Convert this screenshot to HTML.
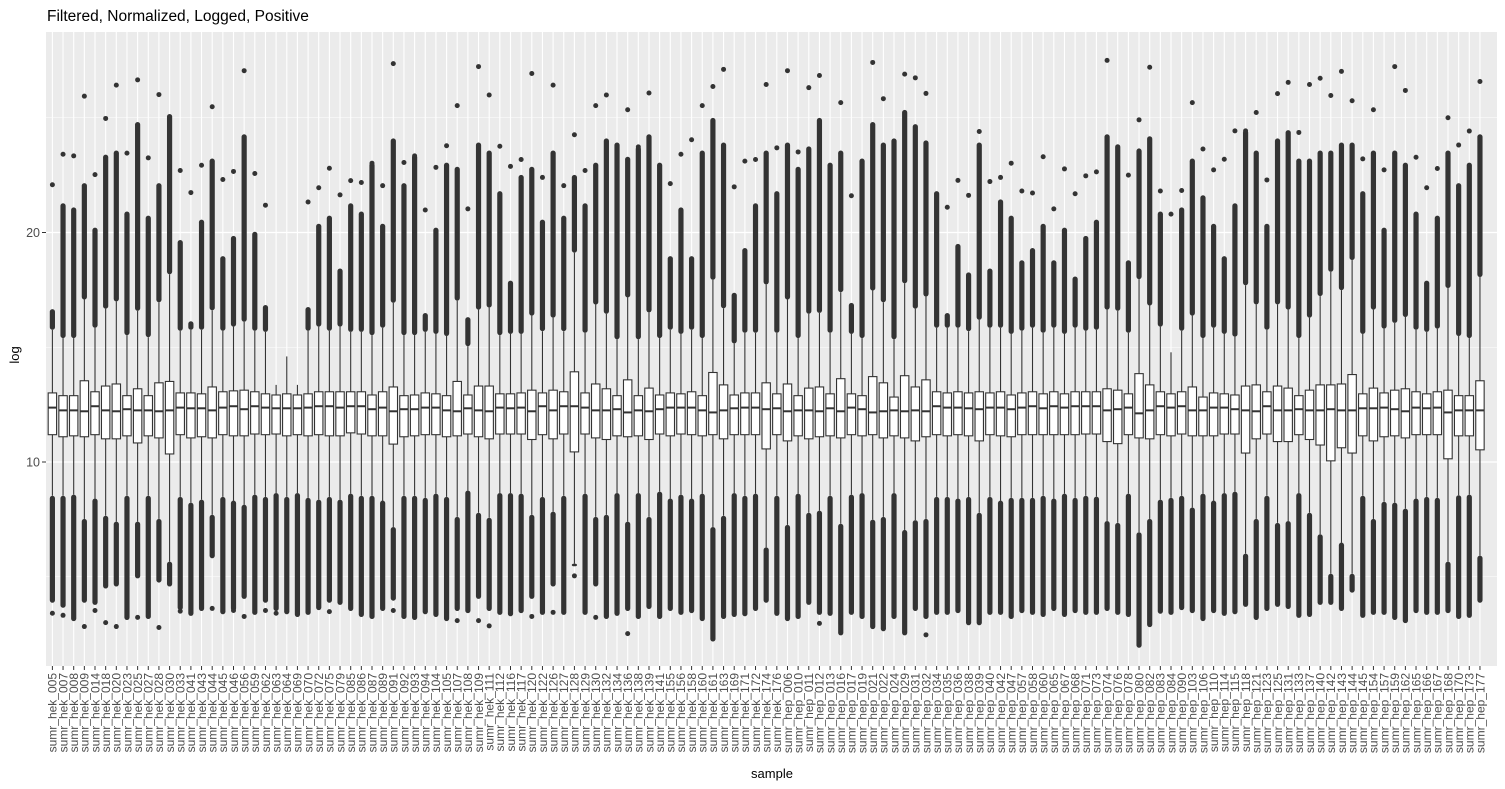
<!DOCTYPE html>
<html><head><meta charset="utf-8"><style>
html,body{margin:0;padding:0;background:#fff;width:1505px;height:789px;overflow:hidden}
svg{display:block;font-family:"Liberation Sans",sans-serif}
</style></head><body>
<svg id="chart" width="1505" height="789" viewBox="0 0 1505 789" xmlns="http://www.w3.org/2000/svg">
<text x="47" y="21" font-size="15.5" fill="#000">Filtered, Normalized, Logged, Positive</text>
<rect x="46" y="32" width="1451" height="634" fill="#ebebeb"/>
<g id="grid"></g><g id="marks"></g><g id="axes"></g>
<text transform="translate(19,355) rotate(-90)" text-anchor="middle" font-size="13" fill="#000">log</text>
<text x="772" y="778" text-anchor="middle" font-size="13" fill="#000">sample</text>
</svg>
<script>
const hekIds=["005","007","008","009","014","018","020","023","025","027","028","030","033","041","043","044","045","046","056","059","062","063","064","069","070","072","075","079","085","086","087","089","091","092","093","094","104","105","107","108","109","111","112","116","117","120","122","126","127","128","129","130","132","134","136","138","139","141","155","156","158","160","161","163","169","171","172","174","176"];
const hepIds=["006","010","011","012","013","016","017","019","021","022","024","029","031","032","034","035","036","038","039","040","042","047","057","058","060","065","067","068","071","073","074","076","078","080","082","083","084","090","103","106","110","114","115","118","121","123","125","131","133","137","140","142","143","144","145","154","157","159","162","165","166","167","168","170","173","177"];
const q3=[13.01,12.89,12.89,13.54,13.06,13.31,13.40,12.89,13.19,12.89,13.45,13.51,13.01,13.01,12.97,13.27,13.06,13.10,13.13,13.06,12.97,12.92,12.97,12.92,12.97,13.06,13.06,13.06,13.06,13.06,12.92,13.06,13.27,12.89,12.92,13.01,12.97,12.89,13.51,12.92,13.31,13.31,12.97,12.97,13.01,13.13,13.01,13.13,13.06,13.93,13.01,13.40,13.19,12.89,13.58,12.89,13.22,12.92,13.01,12.97,13.06,12.89,13.90,13.36,12.92,13.01,13.01,13.45,12.97,13.40,12.89,13.22,13.27,12.97,13.63,12.97,12.89,13.72,13.45,12.83,13.76,13.27,13.58,13.06,13.01,13.06,13.01,13.06,13.01,13.06,12.92,13.01,13.06,12.97,13.06,12.97,13.06,13.06,13.06,13.19,13.13,12.97,13.85,13.36,13.06,12.97,13.06,13.27,12.83,13.01,12.97,12.92,13.31,13.36,13.06,13.31,13.22,12.89,13.13,13.36,13.36,13.40,13.81,12.97,13.22,13.01,13.13,13.19,13.06,12.97,13.06,13.13,12.89,12.89,13.54];
const med=[12.37,12.25,12.25,12.21,12.43,12.25,12.21,12.30,12.25,12.25,12.21,12.25,12.37,12.34,12.34,12.25,12.37,12.43,12.30,12.43,12.37,12.34,12.34,12.34,12.37,12.43,12.43,12.37,12.43,12.43,12.30,12.37,12.21,12.30,12.30,12.37,12.37,12.25,12.21,12.34,12.25,12.21,12.37,12.34,12.37,12.21,12.43,12.25,12.43,12.43,12.37,12.25,12.25,12.30,12.16,12.25,12.21,12.30,12.37,12.37,12.37,12.25,12.16,12.25,12.34,12.37,12.37,12.30,12.34,12.21,12.25,12.25,12.21,12.34,12.21,12.37,12.30,12.16,12.21,12.25,12.21,12.25,12.21,12.43,12.37,12.37,12.34,12.30,12.37,12.37,12.30,12.37,12.43,12.34,12.43,12.37,12.43,12.43,12.43,12.25,12.30,12.37,12.12,12.25,12.43,12.37,12.43,12.25,12.25,12.37,12.37,12.30,12.25,12.21,12.43,12.25,12.25,12.30,12.25,12.25,12.30,12.25,12.25,12.34,12.34,12.37,12.30,12.21,12.37,12.34,12.37,12.16,12.25,12.25,12.25];
const q1=[11.19,11.10,11.14,11.10,11.19,11.01,11.01,11.14,10.83,11.14,11.05,10.35,11.19,11.05,11.10,11.05,11.19,11.14,11.14,11.22,11.19,11.22,11.14,11.19,11.14,11.19,11.14,11.14,11.27,11.22,11.14,11.14,10.78,11.10,11.14,11.19,11.19,11.10,11.14,11.22,11.10,11.01,11.22,11.22,11.22,10.98,11.19,11.01,11.22,10.44,11.22,11.05,10.98,11.14,11.10,11.14,10.98,11.22,11.14,11.22,11.19,11.14,11.19,11.01,11.19,11.19,11.19,10.57,11.19,10.92,11.14,11.01,11.10,11.14,11.05,11.19,11.14,11.19,11.05,11.14,11.05,10.92,11.10,11.19,11.14,11.19,11.14,10.92,11.19,11.14,11.10,11.19,11.19,11.19,11.19,11.19,11.19,11.22,11.22,10.89,10.80,11.19,11.05,11.01,11.19,11.14,11.22,11.14,11.14,11.14,11.22,11.22,10.39,11.01,11.22,10.89,10.89,11.19,10.98,10.74,10.05,10.62,10.39,11.14,10.92,11.10,11.14,11.05,11.19,11.19,11.19,10.14,11.14,11.14,10.53];
const whiskHi=[15.76,15.40,15.40,17.08,15.85,16.68,17.00,15.53,16.59,15.44,16.96,18.18,15.72,15.76,15.76,16.61,15.72,15.90,16.11,15.72,15.67,13.36,14.60,13.36,15.72,15.90,15.72,15.90,15.67,15.67,15.53,15.85,16.94,15.53,15.53,15.67,15.58,15.49,17.03,15.05,16.64,16.73,15.53,15.58,15.58,16.38,15.70,16.29,15.70,19.12,15.63,16.86,16.46,15.35,17.17,15.35,16.52,15.40,15.76,15.58,15.76,15.40,17.94,16.70,15.17,15.63,15.63,17.74,15.63,17.08,15.40,16.46,16.50,15.63,17.40,15.58,15.40,17.47,16.96,15.35,17.79,16.68,17.21,15.85,15.85,15.85,15.70,16.20,15.85,15.85,15.58,15.72,15.85,15.63,15.85,15.58,15.85,15.72,15.76,16.64,16.59,15.63,17.97,16.82,15.90,14.78,15.72,16.38,15.40,15.85,15.58,15.46,17.70,16.87,15.76,16.87,16.64,15.40,16.29,17.23,18.29,17.49,18.80,15.58,16.64,15.81,16.06,16.32,15.76,15.67,15.81,17.58,15.49,15.40,18.06];
const denseHi=[16.55,21.16,20.98,22.04,20.10,23.28,23.46,20.80,24.70,20.62,22.04,25.05,19.56,16.02,20.45,23.11,18.86,19.74,24.17,19.92,16.73,13.36,14.60,13.36,16.64,20.27,20.62,18.32,21.16,20.80,22.93,20.27,23.99,22.04,23.28,16.38,20.10,22.93,22.75,16.20,23.81,23.46,21.69,17.79,22.40,22.75,20.45,23.46,20.62,22.40,21.16,22.93,23.99,23.81,23.19,23.64,24.17,22.93,18.86,20.98,18.86,23.46,24.88,23.81,17.26,19.21,21.16,23.46,21.69,23.81,22.75,23.64,24.88,22.93,23.46,16.82,23.11,24.70,23.81,23.99,25.23,24.61,23.90,21.69,16.38,19.39,18.15,23.81,18.32,21.33,20.62,18.68,19.21,20.27,18.68,20.10,17.97,19.74,20.45,24.17,23.73,18.68,23.55,24.08,20.80,14.78,20.98,23.11,21.51,20.27,18.86,21.16,24.35,23.46,20.27,23.99,24.35,23.11,23.11,23.46,23.46,23.81,23.81,21.69,23.46,20.10,23.46,22.93,20.80,17.79,20.62,23.46,22.04,22.93,24.17];
const maxOut=[22.08,23.41,23.34,25.94,22.52,24.97,26.42,23.46,26.65,23.25,26.01,25.05,22.70,21.74,22.93,25.48,22.31,22.66,27.05,22.57,21.19,13.36,14.60,13.36,21.33,21.95,22.80,21.64,22.26,22.18,23.02,22.04,27.36,23.05,23.34,20.98,22.84,23.78,25.53,21.03,27.23,25.99,23.76,22.88,23.18,26.93,22.40,26.42,22.04,24.26,22.70,25.53,25.99,23.81,25.35,23.73,26.08,22.93,22.13,23.41,24.04,25.53,26.36,27.11,21.99,23.11,23.18,26.45,23.69,27.05,23.51,26.31,26.84,22.93,25.66,21.60,23.11,27.41,25.83,23.99,26.90,26.74,26.06,21.69,21.10,22.27,21.62,24.40,22.22,22.40,23.02,21.81,21.72,23.30,21.03,22.77,21.69,22.47,22.64,27.50,23.73,22.50,24.91,27.20,21.81,20.80,21.83,25.66,23.64,22.73,23.19,24.43,24.43,25.23,22.29,26.05,26.54,24.36,26.45,26.72,25.97,27.02,25.74,23.21,25.35,22.73,27.23,26.19,23.28,21.95,22.79,25.00,23.81,24.42,26.58];
const denseLoTop=[8.53,8.53,8.58,7.52,8.41,7.66,7.40,8.53,7.40,8.53,7.52,5.66,8.48,8.23,8.36,7.70,8.48,8.32,8.14,8.58,8.48,8.65,8.48,8.65,8.44,8.36,8.48,8.36,8.62,8.53,8.53,8.32,7.17,8.53,8.53,8.44,8.62,8.48,7.61,8.76,7.79,7.57,8.65,8.65,8.62,7.70,8.48,7.84,8.53,5.57,8.62,7.61,7.70,8.65,7.40,8.65,7.61,8.71,8.41,8.58,8.41,8.62,7.17,7.66,8.65,8.53,8.62,6.28,8.53,7.26,8.62,7.79,7.88,8.53,7.31,8.58,8.65,7.49,7.61,8.65,7.04,7.47,7.52,8.48,8.48,8.41,8.48,7.79,8.48,8.32,8.44,8.44,8.44,8.53,8.41,8.62,8.44,8.53,8.49,7.43,7.35,8.62,6.94,7.52,8.36,8.44,8.53,8.02,8.62,8.32,8.65,8.71,6.01,7.52,8.53,7.35,7.43,8.65,7.79,6.85,5.13,6.49,5.13,8.53,7.52,8.27,8.23,7.97,8.41,8.48,8.44,5.66,8.55,8.58,5.92];
const denseLoBot=[3.98,3.76,3.18,3.98,3.89,4.60,4.69,3.23,5.04,3.27,4.86,4.69,3.66,3.41,3.62,5.92,3.48,3.62,4.15,3.45,3.98,3.62,3.48,3.36,3.45,3.66,3.98,3.89,3.62,3.36,3.27,3.62,4.07,3.27,3.23,3.48,3.36,3.18,3.62,3.53,4.15,3.62,3.45,3.39,3.53,4.15,3.45,4.69,3.45,5.57,3.45,4.69,3.27,3.41,3.62,3.27,3.71,3.27,3.62,3.45,3.53,3.18,2.29,3.27,3.36,3.39,3.62,3.98,3.41,3.18,3.27,3.89,3.45,3.41,2.56,3.45,3.27,2.83,2.74,3.27,2.56,3.62,3.27,3.45,3.45,3.53,3.00,3.00,3.45,3.45,3.27,3.53,3.45,3.36,3.62,3.36,3.53,3.45,3.45,3.62,3.45,3.36,2.02,2.92,3.50,3.45,3.66,3.53,3.18,3.53,3.41,3.48,3.80,3.23,3.62,3.80,3.71,3.32,3.36,3.89,3.89,3.62,4.42,3.32,3.45,3.45,3.23,3.09,3.53,3.45,3.45,3.53,3.27,3.32,3.98];
const minOut=[3.41,3.32,3.18,2.83,3.53,3.00,2.83,3.23,3.23,3.27,2.79,4.69,3.50,3.41,3.62,3.62,3.48,3.53,3.27,3.45,3.53,3.41,3.48,3.36,3.45,3.66,3.48,3.89,3.62,3.36,3.27,3.62,3.53,3.27,3.23,3.48,3.36,3.18,3.09,3.53,3.09,2.86,3.45,3.39,3.53,3.27,3.45,3.45,3.45,5.04,3.45,3.23,3.27,3.41,2.52,3.27,3.71,3.27,3.62,3.45,3.53,3.18,2.29,3.27,3.36,3.39,3.62,3.98,3.41,3.18,3.27,3.89,2.97,3.41,2.56,3.45,3.27,2.83,2.74,3.27,2.56,3.62,2.47,3.45,3.45,3.53,3.00,3.00,3.45,3.45,3.27,3.53,3.45,3.36,3.62,3.36,3.53,3.45,3.45,3.62,3.45,3.36,2.02,2.92,3.50,3.45,3.66,3.53,3.18,3.53,3.41,3.48,3.80,3.23,3.62,3.80,3.71,3.32,3.36,3.89,3.89,3.62,4.42,3.32,3.45,3.45,3.23,3.09,3.53,3.45,3.45,3.53,3.27,3.32,3.98];
const yTicks=[10,20];
const yMinor=[5,15,25];

const NS="http://www.w3.org/2000/svg";
const labels=hekIds.map(d=>"sumr_hek_"+d).concat(hepIds.map(d=>"sumr_hep_"+d));
const n=labels.length;
const PL=46,PR=1497,PT=32,PB=666;
const step=(PR-PL)/(n+1.2);
function xs(i){return PL+(i+0.6)*step;}
function ys(v){return 462-(v-10)*22.95;}
function mk(tag,attrs,parent){const e=document.createElementNS(NS,tag);for(const k in attrs)e.setAttribute(k,attrs[k]);parent.appendChild(e);return e;}
const grid=document.getElementById('grid'),marks=document.getElementById('marks'),axes=document.getElementById('axes');
yMinor.forEach(v=>{const l=mk('line',{x1:PL,x2:PR,y1:ys(v),y2:ys(v),stroke:'#fff','stroke-width':0.6},grid);

});
yTicks.forEach(v=>{const l=mk('line',{x1:PL,x2:PR,y1:ys(v),y2:ys(v),stroke:'#fff','stroke-width':1.2},grid);


const t=mk('line',{x1:42,x2:46,y1:ys(v),y2:ys(v),stroke:'#333','stroke-width':1},axes);


const tx=mk('text',{x:40,y:ys(v)+4.5,'text-anchor':'end','font-size':12.5,fill:'#4d4d4d'},axes);tx.textContent=v;

});
for(let i=0;i<n;i++){
 const x=xs(i);
 const g=mk('line',{x1:x,x2:x,y1:PT,y2:PB,stroke:'#fff','stroke-width':1.1},grid);
 
 
 const grp=mk('g',{},marks);
 
 
 mk('line',{x1:x,x2:x,y1:ys(whiskHi[i]),y2:ys(q3[i]),stroke:'#333','stroke-width':1.1},grp);
 mk('line',{x1:x,x2:x,y1:ys(q1[i]),y2:ys(denseLoTop[i]),stroke:'#333','stroke-width':1.1},grp);
 if(denseHi[i]>whiskHi[i]+0.01){
  const c=mk('rect',{x:x-2.6,width:5.2,y:ys(denseHi[i])-2.6,height:ys(whiskHi[i])-ys(denseHi[i])+2.6,rx:2.6,fill:'#333'},grp);
  
  
 }
 if(maxOut[i]>denseHi[i]+0.01){
  const d=mk('circle',{cx:x,cy:ys(maxOut[i]),r:2.5,fill:'#333'},grp);
  
  
 }
 const lc=mk('rect',{x:x-2.6,width:5.2,y:ys(denseLoTop[i]),height:ys(denseLoBot[i])-ys(denseLoTop[i])+2.6,rx:2.6,fill:'#333'},grp);
 
 
 if(minOut[i]<denseLoBot[i]-0.01){
  const d2=mk('circle',{cx:x,cy:ys(minOut[i]),r:2.5,fill:'#333'},grp);
  
  
 }
 const b=mk('rect',{x:x-4.2,width:8.4,y:ys(q3[i]),height:ys(q1[i])-ys(q3[i]),fill:'#fff',stroke:'#333','stroke-width':1.1},grp);
 
 
 const m=mk('line',{x1:x-4.2,x2:x+4.2,y1:ys(med[i]),y2:ys(med[i]),stroke:'#333','stroke-width':2},grp);
 
 
 const tk=mk('line',{x1:x,x2:x,y1:PB,y2:PB+4,stroke:'#333','stroke-width':1},axes);
 
 
 const lb=mk('text',{transform:`translate(${x+4.3},${PB+7}) rotate(-90)`,'text-anchor':'end','font-size':12,fill:'#4d4d4d'},axes);
 lb.textContent=labels[i];
 
 
}
</script>
</body></html>
